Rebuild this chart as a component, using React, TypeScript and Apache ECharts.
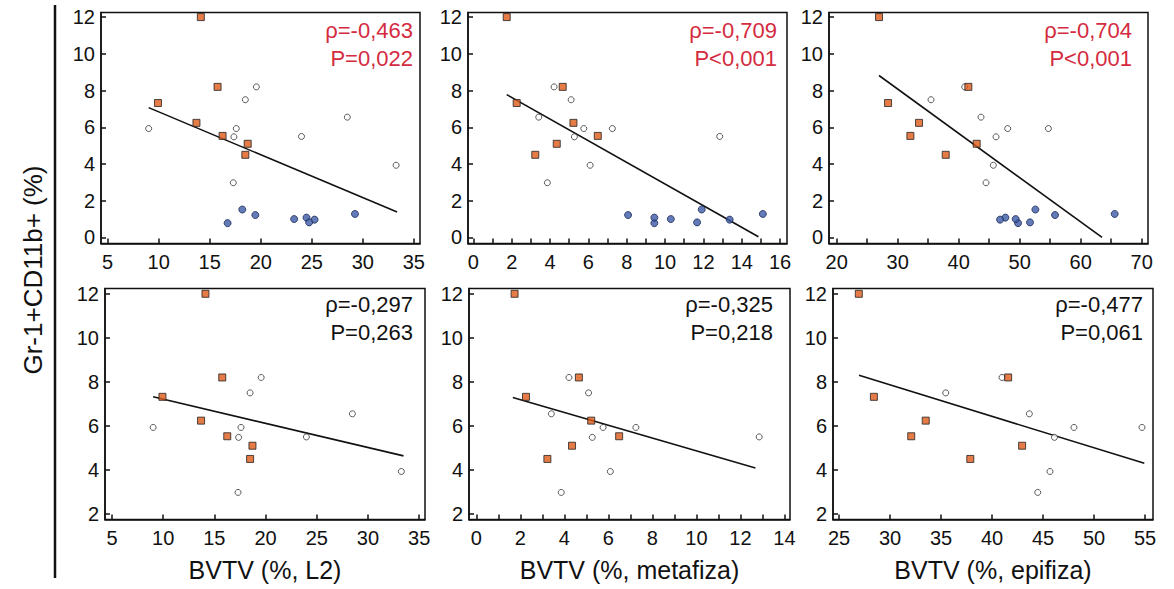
import React, { useEffect, useRef } from "react";
import * as echarts from "echarts";

// ---- data ----
const orangeY = [12.0, 7.32, 6.24, 8.2, 5.53, 5.1, 4.5];
const orangeL2 = [14.13, 9.93, 13.7, 15.77, 16.26, 18.72, 18.49];
const orangeMeta = [1.74, 2.26, 5.22, 4.66, 6.49, 4.35, 3.23];
const orangeEpi = [26.94, 28.42, 33.5, 41.58, 32.08, 42.95, 37.87];

const whiteY = [5.93, 5.93, 5.48, 7.5, 8.2, 2.98, 5.5, 6.55, 3.93];
const whiteL2 = [9.02, 17.6, 17.37, 18.49, 19.57, 17.31, 23.99, 28.48, 33.26];
const whiteMeta = [5.76, 7.25, 5.27, 5.1, 4.21, 3.86, 12.85, 3.41, 6.09];
const whiteEpi = [48.03, 54.7, 46.12, 35.46, 40.98, 44.48, null, 43.66, 45.68];

const blueY = [1.52, 0.78, 1.22, 1.28, 1.0, 1.08, 0.97, 0.82];
const blueL2 = [18.19, 16.75, 19.47, 29.23, 23.27, 24.48, 25.27, 24.74];
const blueMeta = [11.91, 9.44, 8.07, 15.1, 10.3, 9.44, 13.37, 11.67];
const blueEpi = [52.57, 49.73, 55.79, 65.57, 49.34, 47.65, 46.78, 51.69];

// regression line end points [x0, y0, x1, y1]
const fitTop = [
  [9.02, 7.07, 33.36, 1.38],
  [1.74, 7.78, 14.87, 0.04],
  [26.94, 8.82, 63.5, 0.0],
];
const fitBottom = [
  [9.02, 7.32, 33.47, 4.64],
  [1.66, 7.29, 12.68, 4.09],
  [26.96, 8.3, 54.93, 4.3],
];

const rhoTop = ["ρ=-0,463", "ρ=-0,709", "ρ=-0,704"];
const pTop = ["P=0,022", "P<0,001", "P<0,001"];
const rhoBottom = ["ρ=-0,297", "ρ=-0,325", "ρ=-0,477"];
const pBottom = ["P=0,263", "P=0,218", "P=0,061"];

const xNames = ["BVTV (%, L2)", "BVTV (%, metafiza)", "BVTV (%, epifiza)"];
const yTitle = "Gr-1+CD11b+ (%)";

const xTicksL2 = [5, 10, 15, 20, 25, 30, 35];
const xLabelsL2 = [5, 10, 15, 20, 25, 30, 35];
const xTicksMetaTop = [0, 1, 2, 3, 4, 5, 6, 7, 8, 9, 10, 11, 12, 13, 14, 15, 16];
const xLabelsMetaTop = [0, 2, 4, 6, 8, 10, 12, 14, 16];
const xTicksEpiTop = [20, 25, 30, 35, 40, 45, 50, 55, 60, 65, 70];
const xLabelsEpiTop = [20, 30, 40, 50, 60, 70];
const xTicksMetaBot = [0, 1, 2, 3, 4, 5, 6, 7, 8, 9, 10, 11, 12, 13, 14];
const xLabelsMetaBot = [0, 2, 4, 6, 8, 10, 12, 14];
const xTicksEpiBot = [25, 30, 35, 40, 45, 50, 55];
const yTicksTop = [0, 2, 4, 6, 8, 10, 12];
const yTicksBottom = [2, 4, 6, 8, 10, 12];

const FONT = "'Liberation Sans', Arial, Helvetica, sans-serif";
const INK = "#111";
const RED = "#d42b3f";

function pairs(xs: (number | null)[], ys: number[]) {
  const out: number[][] = [];
  xs.forEach((x, i) => {
    if (x !== null && x !== undefined) out.push([x, ys[i]]);
  });
  return out;
}

export default function App() {
  const ref = useRef<HTMLDivElement>(null);
  useEffect(() => {
    if (!ref.current) return;
    const chart = echarts.init(ref.current, undefined, { renderer: "svg" });

    const panels = [
      { grid: { left: 101, top: 12.5, width: 319, height: 231 }, xmin: 4.35, xmax: 35.6, ymin: -0.33, ymax: 12.25, xt: xTicksL2, xl: xLabelsL2, yt: yTicksTop, name: "" },
      { grid: { left: 468, top: 12.5, width: 319, height: 231 }, xmin: -0.28, xmax: 16.36, ymin: -0.33, ymax: 12.25, xt: xTicksMetaTop, xl: xLabelsMetaTop, yt: yTicksTop, name: "" },
      { grid: { left: 829, top: 12.5, width: 319, height: 231 }, xmin: 18.74, xmax: 71.03, ymin: -0.33, ymax: 12.25, xt: xTicksEpiTop, xl: xLabelsEpiTop, yt: yTicksTop, name: "" },
      { grid: { left: 105, top: 288.5, width: 320, height: 231 }, xmin: 4.32, xmax: 35.57, ymin: 1.75, ymax: 12.24, xt: xTicksL2, xl: xLabelsL2, yt: yTicksBottom, name: xNames[0] },
      { grid: { left: 469, top: 288.5, width: 321, height: 231 }, xmin: -0.33, xmax: 14.25, ymin: 1.75, ymax: 12.24, xt: xTicksMetaBot, xl: xLabelsMetaBot, yt: yTicksBottom, name: xNames[1] },
      { grid: { left: 833, top: 288.5, width: 320, height: 231 }, xmin: 24.41, xmax: 55.78, ymin: 1.75, ymax: 12.24, xt: xTicksEpiBot, xl: xTicksEpiBot, yt: yTicksBottom, name: xNames[2] },
    ];

    const grid = panels.map((p) => ({
      ...p.grid,
      show: true,
      borderColor: INK,
      borderWidth: 1.5,
      backgroundColor: "#fff",
      containLabel: false,
    }));

    const xAxis = panels.map((p, i) => ({
      gridIndex: i,
      type: "value",
      min: p.xmin,
      max: p.xmax,
      axisLine: { show: true, onZero: false, lineStyle: { color: INK, width: 1.5 } },
      axisTick: { show: true, inside: true, length: 5, customValues: p.xt, lineStyle: { color: INK, width: 1.5 } },
      axisLabel: { customValues: p.xl, fontSize: 20, color: INK, margin: 8, fontFamily: FONT },
      splitLine: { show: false },
      name: p.name,
      nameLocation: "middle",
      nameGap: 38,
      nameTextStyle: { fontSize: 25, color: INK, fontFamily: FONT },
    }));

    const yAxis = panels.map((p, i) => ({
      gridIndex: i,
      type: "value",
      min: p.ymin,
      max: p.ymax,
      axisLine: { show: true, onZero: false, lineStyle: { color: INK, width: 1.5 } },
      axisTick: { show: true, inside: true, length: 5, customValues: p.yt, lineStyle: { color: INK, width: 1.5 } },
      axisLabel: { customValues: p.yt, fontSize: 20, color: INK, margin: 6, fontFamily: FONT },
      splitLine: { show: false },
    }));

    const xsOrange = [orangeL2, orangeMeta, orangeEpi];
    const xsWhite = [whiteL2, whiteMeta, whiteEpi];
    const xsBlue = [blueL2, blueMeta, blueEpi];

    const series: any[] = [];
    panels.forEach((_, i) => {
      const k = i % 3;
      const top = i < 3;
      const fit = top ? fitTop[k] : fitBottom[k];
      series.push({
        type: "line",
        xAxisIndex: i,
        yAxisIndex: i,
        data: [[fit[0], fit[1]], [fit[2], fit[3]]],
        symbol: "none",
        lineStyle: { color: INK, width: 1.6 },
        z: 2,
      });
      series.push({
        type: "scatter",
        xAxisIndex: i,
        yAxisIndex: i,
        data: pairs(xsWhite[k], whiteY),
        symbol: "circle",
        symbolSize: 6,
        itemStyle: { color: "#fff", borderColor: "#333", borderWidth: 1 },
        z: 3,
      });
      series.push({
        type: "scatter",
        xAxisIndex: i,
        yAxisIndex: i,
        data: pairs(xsOrange[k], orangeY),
        symbol: "rect",
        symbolSize: 7,
        itemStyle: { color: "#df5a18", borderColor: "#222", borderWidth: 1 },
        z: 4,
      });
      if (top) {
        series.push({
          type: "scatter",
          xAxisIndex: i,
          yAxisIndex: i,
          data: pairs(xsBlue[k], blueY),
          symbol: "circle",
          symbolSize: 7,
          itemStyle: { color: "#3d5aa8", borderColor: "#1b2b55", borderWidth: 1 },
          z: 4,
        });
      }
    });

    const statRight = [413, 777, 1132, 413, 773, 1143];
    const graphic: any[] = [];
    statRight.forEach((x, i) => {
      const top = i < 3;
      const k = i % 3;
      const y0 = top ? 30 : 304;
      const color = top ? RED : INK;
      graphic.push({
        type: "text",
        x,
        y: y0,
        style: { text: top ? rhoTop[k] : rhoBottom[k], fill: color, font: `22px ${FONT}`, textAlign: "right", textVerticalAlign: "middle" },
        z: 10,
      });
      graphic.push({
        type: "text",
        x,
        y: y0 + 28,
        style: { text: top ? pTop[k] : pBottom[k], fill: color, font: `22px ${FONT}`, textAlign: "right", textVerticalAlign: "middle" },
        z: 10,
      });
    });
    graphic.push({
      type: "text",
      x: 33,
      y: 270,
      rotation: Math.PI / 2,
      style: { text: yTitle, fill: INK, font: `26px ${FONT}`, textAlign: "center", textVerticalAlign: "middle" },
    });
    graphic.push({
      type: "line",
      shape: { x1: 55, y1: 5, x2: 55, y2: 578 },
      style: { stroke: INK, lineWidth: 2.5 },
    });

    chart.setOption({
      animation: false,
      backgroundColor: "#fff",
      grid,
      xAxis,
      yAxis,
      series,
      graphic,
    });
    return () => chart.dispose();
  }, []);

  return (
    <div
      ref={ref}
      style={{ position: "fixed", left: 0, top: 0, width: 1174, height: 589, background: "#fff" }}
    />
  );
}
